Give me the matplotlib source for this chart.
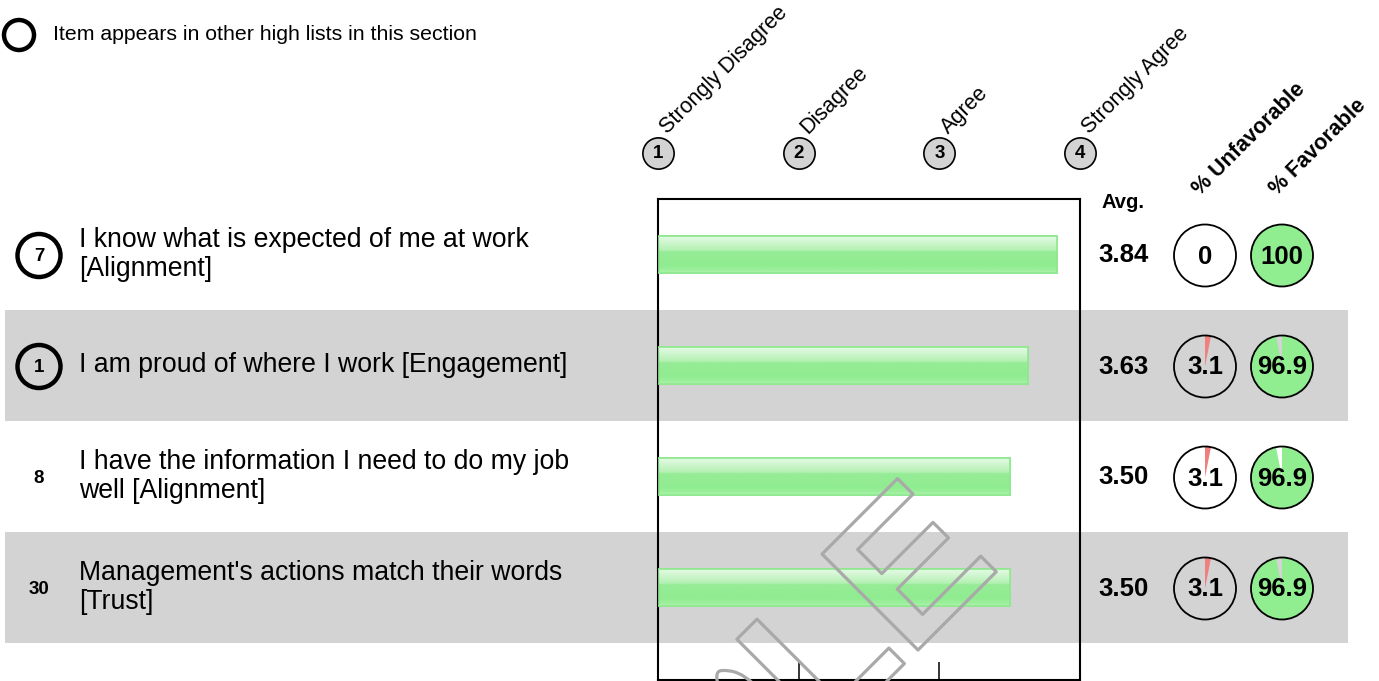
import numpy as np
import matplotlib
matplotlib.use("Agg")
import matplotlib.pyplot as plt
from matplotlib.patches import Circle, Wedge, Rectangle
from matplotlib.transforms import blended_transform_factory, offset_copy
from matplotlib.colors import LinearSegmentedColormap
import matplotlib.patheffects as pe

plt.rcParams['font.family'] = ['Liberation Sans', 'DejaVu Sans']

# ---------------- data ----------------
ranks = [7, 1, 8, 30]
in_other_lists = [True, True, False, False]
questions = [
    "I know what is expected of me at work\n[Alignment]",
    "I am proud of where I work [Engagement]",
    "I have the information I need to do my job\nwell [Alignment]",
    "Management's actions match their words\n[Trust]",
]
averages = [3.84, 3.63, 3.50, 3.50]
unfavorable = [0, 3.1, 3.1, 3.1]
favorable = [100, 96.9, 96.9, 96.9]
scale_values = [1, 2, 3, 4]
scale_labels = ["Strongly Disagree", "Disagree", "Agree", "Strongly Agree"]
legend_text = "Item appears in other high lists in this section"

# ---------------- layout (pixels) ----------------
W, H = 1379, 681
ROW0, ROWH = 254.5, 111.0
BAR_L, BAR_R, BAR_T, BAR_B = 658, 1080, 199, 680

fig = plt.figure(figsize=(W / 100, H / 100), dpi=100)

def full_axes(z):
    a = fig.add_axes([0, 0, 1, 1], zorder=z)
    a.set_xlim(0, W)
    a.set_ylim(H, 0)
    a.axis('off')
    a.patch.set_alpha(0)
    return a

ax_bg = full_axes(0)
ax_bar = fig.add_axes([BAR_L / W, (H - BAR_B) / H, (BAR_R - BAR_L) / W, (BAR_B - BAR_T) / H], zorder=1)
ax_top = full_axes(2)

n = len(questions)
row_y = [ROW0 + ROWH * i for i in range(n)]

# gray bands for alternating rows
for i in range(n):
    if i % 2 == 1:
        ax_bg.add_patch(Rectangle((5, row_y[i] - ROWH / 2), 1343, ROWH, facecolor='#d3d3d3', edgecolor='none'))

# ---------------- bar axes ----------------
ax_bar.set_facecolor('none')
rows = np.arange(n)
bar_h = 0.325
bars = ax_bar.barh(rows, [a - 1 for a in averages], left=1, height=bar_h,
                   color='#90ee90', edgecolor='#8fe88f', linewidth=1.2, zorder=2)
grad_cmap = LinearSegmentedColormap.from_list('gloss', [
    (0.0, '#e4fae4'), (0.12, '#d6f7d6'), (0.38, '#b4f1b4'), (0.42, '#96ec96'),
    (0.8, '#90ec90'), (0.93, '#9cf09c'), (1.0, '#b2f3b2')])
grad = np.linspace(0, 1, 200).reshape(-1, 1)
for i, b in enumerate(bars):
    im = ax_bar.imshow(grad, cmap=grad_cmap, aspect='auto', interpolation='bilinear',
                       extent=(1, averages[i], i + bar_h / 2, i - bar_h / 2),
                       origin='upper', zorder=2.5)
    im.set_clip_path(b)
ax_bar.barh(rows, [a - 1 for a in averages], left=1, height=bar_h,
            color='none', edgecolor='#8fe88f', linewidth=1.2, zorder=3)
ax_bar.set_xlim(1, 4)
ax_bar.set_ylim((BAR_B - ROW0) / ROWH, (BAR_T - ROW0) / ROWH)
ax_bar.set_xticks(scale_values[1:-1])
ax_bar.set_xticklabels([])
ax_bar.set_yticks([])
ax_bar.tick_params(axis='x', direction='in', length=13, width=1.1, color='black')
for s in ax_bar.spines.values():
    s.set_linewidth(1.5)
    s.set_color('black')

# ---------------- header ----------------
blend = blended_transform_factory(ax_bar.transData, ax_top.transData)
ax_top.plot(scale_values, [153] * len(scale_values), 'o', transform=blend, markersize=22.5,
            markerfacecolor='#d3d3d3', markeredgecolor='black', markeredgewidth=1.2, clip_on=False)
lab_tr = offset_copy(blend, fig=fig, x=9, y=0, units='dots')
for v, lab in zip(scale_values, scale_labels):
    ax_top.text(v, 154, str(v), transform=blend, ha='center', va='center',
                fontsize=13.5, fontweight='bold')
    ax_top.text(v, 134, lab, transform=lab_tr, rotation=45, rotation_mode='anchor',
                ha='left', va='baseline', fontsize=15.5)

ax_top.text(1123, 202, "Avg.", ha='center', va='center', fontsize=14.5, fontweight='bold')
ax_top.text(1200, 196, "% Unfavorable", rotation=45, rotation_mode='anchor',
            ha='left', va='baseline', fontsize=15.5, fontweight='bold')
ax_top.text(1277, 196, "% Favorable", rotation=45, rotation_mode='anchor',
            ha='left', va='baseline', fontsize=15.5, fontweight='bold')

# legend
ax_top.add_patch(Circle((19, 35), 15, facecolor='none', edgecolor='black', linewidth=3.2))
ax_top.text(53, 35, legend_text, ha='left', va='center', fontsize=15.3)

# ---------------- rows ----------------
UX, FX, PR = 1205, 1282, 31
for i in range(n):
    y = row_y[i]
    if in_other_lists[i]:
        ax_top.add_patch(Circle((39, y + 1), 21.5, facecolor='none', edgecolor='black', linewidth=3.2))
    ax_top.text(39, y + 2, str(ranks[i]), ha='center', va='center', fontsize=13.5, fontweight='bold')
    ax_top.text(79, y, questions[i], ha='left', va='center', fontsize=19.2, linespacing=1.18)
    ax_top.text(1123, y + 1, f"{averages[i]:.2f}", ha='center', va='center',
                fontsize=18.5, fontweight='bold')
    # unfavorable pie
    if unfavorable[i] > 0:
        ax_top.add_patch(Wedge((UX, y + 1), PR, -90, -90 + 3.6 * unfavorable[i],
                               facecolor='#f08080', edgecolor='none'))
    ax_top.add_patch(Circle((UX, y + 1), PR, facecolor='none', edgecolor='black', linewidth=1.3))
    ax_top.text(UX, y + 2, f"{unfavorable[i]:g}", ha='center', va='center',
                fontsize=18.5, fontweight='bold')
    # favorable pie
    ax_top.add_patch(Wedge((FX, y + 1), PR, -90, -90 + 3.6 * favorable[i],
                           facecolor='#90ee90', edgecolor='none'))
    ax_top.add_patch(Circle((FX, y + 1), PR, facecolor='none', edgecolor='black', linewidth=1.3))
    ax_top.text(FX, y + 2, f"{favorable[i]:g}", ha='center', va='center',
                fontsize=18.5, fontweight='bold')

# watermark (partly outside the picture, as in the reference)
wm = ax_top.text(1002, 566, "SAMPLE", rotation=45, rotation_mode='anchor', ha='right',
                 va='baseline', fontsize=142, fontweight='bold', color='none', zorder=10,
                 path_effects=[pe.Stroke(linewidth=2.3, foreground='#a9a9a9')])

fig.savefig("out.png", dpi=100)
